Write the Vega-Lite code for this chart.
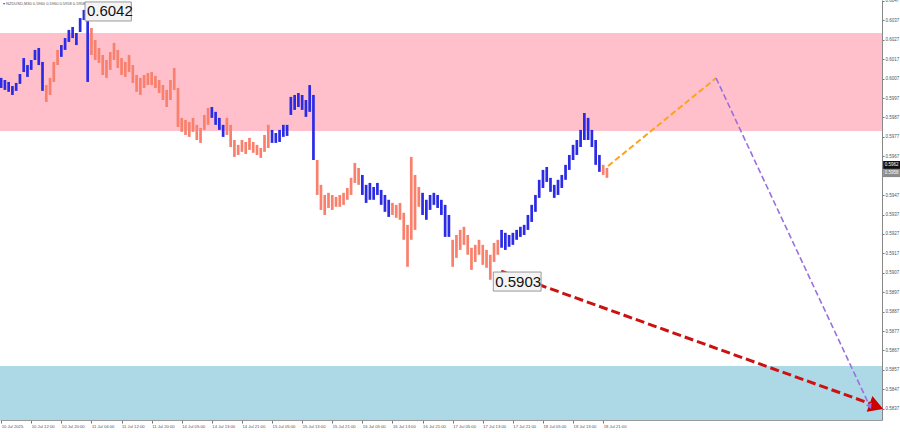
{
  "$schema": "https://vega.github.io/schema/vega-lite/v6.json",
  "width": 882,
  "height": 420,
  "autosize": {"type": "none"},
  "padding": {"left": 0, "top": 0, "right": 18, "bottom": 12},
  "background": "#ffffff",
  "config": {"view": {"stroke": null}, "font": "Liberation Sans"},
  "encoding": {
    "x": {"field": "t", "type": "quantitative", "title": null,
      "scale": {"domain": [-0.3, 234.1], "nice": false, "zero": false},
      "axis": {"orient": "bottom", "values": [0,8,16,24,32,40,48,56,64,72,80,88,96,104,112,120,128,136,144,152,160],
        "labelExpr": "['10 Jul 2025','10 Jul 12:00','10 Jul 20:00','11 Jul 04:00','11 Jul 12:00','11 Jul 20:00','14 Jul 05:00','14 Jul 13:00','14 Jul 21:00','15 Jul 05:00','15 Jul 13:00','15 Jul 21:00','16 Jul 05:00','16 Jul 13:00','16 Jul 21:00','17 Jul 05:00','17 Jul 13:00','17 Jul 21:00','18 Jul 05:00','18 Jul 13:00','18 Jul 21:00'][round(datum.value/8)]",
        "labelAlign": "left", "labelBaseline": "top", "labelFontSize": 4.2, "labelColor": "#555555", "labelPadding": 1, "labelFlush": false, "labelOverlap": false,
        "tickSize": 3, "tickColor": "#777777", "domainColor": "#999999", "grid": false}},
    "y": {"field": "p", "type": "quantitative", "title": null,
      "scale": {"domain": [0.58312, 0.60475], "nice": false, "zero": false},
      "axis": {"orient": "right", "values": [0.5837,0.5847,0.5857,0.5867,0.5877,0.5887,0.5897,0.5907,0.5917,0.5927,0.5937,0.5947,0.5957,0.5967,0.5977,0.5987,0.5997,0.6007,0.6017,0.6027,0.6037,0.6047],
        "format": ".4f", "labelFontSize": 4.5, "labelColor": "#555555", "labelPadding": 1, "labelOverlap": false, "labelFlush": false,
        "tickSize": 2, "tickColor": "#777777", "domainColor": "#888888", "grid": false}}
  },
  "layer": [
    {
      "data": {"values": [
        {"zone": "resistance", "t": -0.3, "t2": 234.1, "p": 0.60305, "p2": 0.59800},
        {"zone": "target", "t": -0.3, "t2": 234.1, "p": 0.58590, "p2": 0.58312}
      ]},
      "mark": {"type": "rect"},
      "encoding": {
        "x2": {"field": "t2"},
        "y2": {"field": "p2"},
        "fill": {"field": "zone", "type": "nominal", "scale": {"domain": ["resistance", "target"], "range": ["#FFC0CB", "#ADD8E6"]}, "legend": null}
      }
    },
    {
      "data": {"values": [
        {"t":0,"high":0.60074,"low":0.60022,"state":"bull"},
        {"t":1,"high":0.60063,"low":0.60012,"state":"bull"},
        {"t":2,"high":0.60053,"low":0.60002,"state":"bull"},
        {"t":3,"high":0.60032,"low":0.59986,"state":"bull"},
        {"t":4,"high":0.60048,"low":0.60007,"state":"bull"},
        {"t":5,"high":0.60094,"low":0.60043,"state":"bull"},
        {"t":6,"high":0.60176,"low":0.60104,"state":"bull"},
        {"t":7,"high":0.60140,"low":0.60079,"state":"bull"},
        {"t":8,"high":0.60166,"low":0.60115,"state":"bull"},
        {"t":9,"high":0.60218,"low":0.60166,"state":"bull"},
        {"t":10,"high":0.60228,"low":0.60140,"state":"bull"},
        {"t":11,"high":0.60156,"low":0.60007,"state":"bull"},
        {"t":12,"high":0.60037,"low":0.59950,"state":"bear"},
        {"t":13,"high":0.60074,"low":0.59986,"state":"bear"},
        {"t":14,"high":0.60156,"low":0.60053,"state":"bear"},
        {"t":15,"high":0.60218,"low":0.60140,"state":"bear"},
        {"t":16,"high":0.60243,"low":0.60182,"state":"bull"},
        {"t":17,"high":0.60279,"low":0.60218,"state":"bull"},
        {"t":18,"high":0.60321,"low":0.60259,"state":"bull"},
        {"t":19,"high":0.60336,"low":0.60279,"state":"bull"},
        {"t":20,"high":0.60305,"low":0.60243,"state":"bull"},
        {"t":21,"high":0.60382,"low":0.60310,"state":"bull"},
        {"t":22,"high":0.60424,"low":0.60372,"state":"bull"},
        {"t":23,"high":0.60413,"low":0.60053,"state":"bull"},
        {"t":24,"high":0.60331,"low":0.60192,"state":"bear"},
        {"t":25,"high":0.60269,"low":0.60166,"state":"bear"},
        {"t":26,"high":0.60228,"low":0.60151,"state":"bear"},
        {"t":27,"high":0.60192,"low":0.60089,"state":"bear"},
        {"t":28,"high":0.60166,"low":0.60074,"state":"bear"},
        {"t":29,"high":0.60207,"low":0.60115,"state":"bear"},
        {"t":30,"high":0.60254,"low":0.60166,"state":"bear"},
        {"t":31,"high":0.60218,"low":0.60125,"state":"bear"},
        {"t":32,"high":0.60176,"low":0.60089,"state":"bear"},
        {"t":33,"high":0.60156,"low":0.60079,"state":"bear"},
        {"t":34,"high":0.60192,"low":0.60104,"state":"bear"},
        {"t":35,"high":0.60140,"low":0.60048,"state":"bear"},
        {"t":36,"high":0.60089,"low":0.60002,"state":"bear"},
        {"t":37,"high":0.60074,"low":0.59986,"state":"bear"},
        {"t":38,"high":0.60089,"low":0.60022,"state":"bear"},
        {"t":39,"high":0.60099,"low":0.60037,"state":"bear"},
        {"t":40,"high":0.60104,"low":0.60037,"state":"bear"},
        {"t":41,"high":0.60084,"low":0.60022,"state":"bear"},
        {"t":42,"high":0.60063,"low":0.59996,"state":"bear"},
        {"t":43,"high":0.60037,"low":0.59960,"state":"bear"},
        {"t":44,"high":0.60012,"low":0.59924,"state":"bear"},
        {"t":45,"high":0.60063,"low":0.59960,"state":"bear"},
        {"t":46,"high":0.60125,"low":0.60012,"state":"bear"},
        {"t":47,"high":0.60022,"low":0.59821,"state":"bear"},
        {"t":48,"high":0.59868,"low":0.59796,"state":"bear"},
        {"t":49,"high":0.59857,"low":0.59780,"state":"bear"},
        {"t":50,"high":0.59847,"low":0.59770,"state":"bear"},
        {"t":51,"high":0.59868,"low":0.59796,"state":"bear"},
        {"t":52,"high":0.59832,"low":0.59754,"state":"bear"},
        {"t":53,"high":0.59816,"low":0.59739,"state":"bear"},
        {"t":54,"high":0.59883,"low":0.59806,"state":"bear"},
        {"t":55,"high":0.59919,"low":0.59832,"state":"bear"},
        {"t":56,"high":0.59924,"low":0.59868,"state":"bull"},
        {"t":57,"high":0.59899,"low":0.59832,"state":"bull"},
        {"t":58,"high":0.59868,"low":0.59806,"state":"bull"},
        {"t":59,"high":0.59832,"low":0.59770,"state":"bull"},
        {"t":60,"high":0.59868,"low":0.59780,"state":"bear"},
        {"t":61,"high":0.59832,"low":0.59718,"state":"bear"},
        {"t":62,"high":0.59754,"low":0.59667,"state":"bear"},
        {"t":63,"high":0.59729,"low":0.59677,"state":"bear"},
        {"t":64,"high":0.59754,"low":0.59693,"state":"bear"},
        {"t":65,"high":0.59744,"low":0.59682,"state":"bear"},
        {"t":66,"high":0.59765,"low":0.59703,"state":"bear"},
        {"t":67,"high":0.59744,"low":0.59688,"state":"bear"},
        {"t":68,"high":0.59729,"low":0.59677,"state":"bear"},
        {"t":69,"high":0.59713,"low":0.59662,"state":"bear"},
        {"t":70,"high":0.59780,"low":0.59693,"state":"bear"},
        {"t":71,"high":0.59832,"low":0.59713,"state":"bear"},
        {"t":72,"high":0.59806,"low":0.59739,"state":"bull"},
        {"t":73,"high":0.59790,"low":0.59739,"state":"bull"},
        {"t":74,"high":0.59806,"low":0.59744,"state":"bull"},
        {"t":75,"high":0.59832,"low":0.59770,"state":"bull"},
        {"t":76,"high":0.59832,"low":0.59775,"state":"bull"},
        {"t":77,"high":0.59976,"low":0.59883,"state":"bull"},
        {"t":78,"high":0.59986,"low":0.59909,"state":"bull"},
        {"t":79,"high":0.59996,"low":0.59924,"state":"bull"},
        {"t":80,"high":0.59986,"low":0.59909,"state":"bull"},
        {"t":81,"high":0.59960,"low":0.59873,"state":"bull"},
        {"t":82,"high":0.60037,"low":0.59899,"state":"bull"},
        {"t":83,"high":0.59986,"low":0.59651,"state":"bull"},
        {"t":84,"high":0.59651,"low":0.59471,"state":"bear"},
        {"t":85,"high":0.59523,"low":0.59394,"state":"bear"},
        {"t":86,"high":0.59471,"low":0.59368,"state":"bear"},
        {"t":87,"high":0.59482,"low":0.59404,"state":"bear"},
        {"t":88,"high":0.59471,"low":0.59394,"state":"bear"},
        {"t":89,"high":0.59461,"low":0.59410,"state":"bear"},
        {"t":90,"high":0.59471,"low":0.59410,"state":"bear"},
        {"t":91,"high":0.59482,"low":0.59420,"state":"bear"},
        {"t":92,"high":0.59507,"low":0.59446,"state":"bear"},
        {"t":93,"high":0.59559,"low":0.59471,"state":"bear"},
        {"t":94,"high":0.59636,"low":0.59533,"state":"bear"},
        {"t":95,"high":0.59610,"low":0.59523,"state":"bear"},
        {"t":96,"high":0.59574,"low":0.59471,"state":"bull"},
        {"t":97,"high":0.59523,"low":0.59430,"state":"bull"},
        {"t":98,"high":0.59533,"low":0.59446,"state":"bull"},
        {"t":99,"high":0.59512,"low":0.59446,"state":"bull"},
        {"t":100,"high":0.59533,"low":0.59471,"state":"bull"},
        {"t":101,"high":0.59497,"low":0.59420,"state":"bull"},
        {"t":102,"high":0.59471,"low":0.59384,"state":"bull"},
        {"t":103,"high":0.59446,"low":0.59358,"state":"bull"},
        {"t":104,"high":0.59430,"low":0.59368,"state":"bear"},
        {"t":105,"high":0.59420,"low":0.59353,"state":"bear"},
        {"t":106,"high":0.59430,"low":0.59343,"state":"bear"},
        {"t":107,"high":0.59379,"low":0.59240,"state":"bear"},
        {"t":108,"high":0.59317,"low":0.59101,"state":"bear"},
        {"t":109,"high":0.59667,"low":0.59240,"state":"bear"},
        {"t":110,"high":0.59574,"low":0.59291,"state":"bear"},
        {"t":111,"high":0.59512,"low":0.59410,"state":"bear"},
        {"t":112,"high":0.59482,"low":0.59368,"state":"bull"},
        {"t":113,"high":0.59446,"low":0.59343,"state":"bull"},
        {"t":114,"high":0.59471,"low":0.59394,"state":"bull"},
        {"t":115,"high":0.59482,"low":0.59420,"state":"bull"},
        {"t":116,"high":0.59471,"low":0.59404,"state":"bull"},
        {"t":117,"high":0.59446,"low":0.59368,"state":"bull"},
        {"t":118,"high":0.59420,"low":0.59255,"state":"bull"},
        {"t":119,"high":0.59368,"low":0.59255,"state":"bull"},
        {"t":120,"high":0.59240,"low":0.59101,"state":"bear"},
        {"t":121,"high":0.59265,"low":0.59147,"state":"bear"},
        {"t":122,"high":0.59291,"low":0.59188,"state":"bear"},
        {"t":123,"high":0.59307,"low":0.59214,"state":"bear"},
        {"t":124,"high":0.59265,"low":0.59163,"state":"bear"},
        {"t":125,"high":0.59199,"low":0.59085,"state":"bear"},
        {"t":126,"high":0.59214,"low":0.59126,"state":"bear"},
        {"t":127,"high":0.59240,"low":0.59163,"state":"bear"},
        {"t":128,"high":0.59214,"low":0.59111,"state":"bear"},
        {"t":129,"high":0.59188,"low":0.59096,"state":"bear"},
        {"t":130,"high":0.59163,"low":0.59034,"state":"bear"},
        {"t":131,"high":0.59224,"low":0.59126,"state":"bear"},
        {"t":132,"high":0.59240,"low":0.59163,"state":"bear"},
        {"t":133,"high":0.59291,"low":0.59199,"state":"bull"},
        {"t":134,"high":0.59276,"low":0.59188,"state":"bull"},
        {"t":135,"high":0.59265,"low":0.59204,"state":"bull"},
        {"t":136,"high":0.59276,"low":0.59214,"state":"bull"},
        {"t":137,"high":0.59291,"low":0.59240,"state":"bull"},
        {"t":138,"high":0.59307,"low":0.59255,"state":"bull"},
        {"t":139,"high":0.59317,"low":0.59265,"state":"bull"},
        {"t":140,"high":0.59368,"low":0.59291,"state":"bull"},
        {"t":141,"high":0.59420,"low":0.59332,"state":"bull"},
        {"t":142,"high":0.59471,"low":0.59384,"state":"bull"},
        {"t":143,"high":0.59549,"low":0.59456,"state":"bull"},
        {"t":144,"high":0.59600,"low":0.59507,"state":"bull"},
        {"t":145,"high":0.59615,"low":0.59538,"state":"bull"},
        {"t":146,"high":0.59559,"low":0.59487,"state":"bull"},
        {"t":147,"high":0.59523,"low":0.59456,"state":"bull"},
        {"t":148,"high":0.59549,"low":0.59471,"state":"bull"},
        {"t":149,"high":0.59574,"low":0.59507,"state":"bull"},
        {"t":150,"high":0.59626,"low":0.59549,"state":"bull"},
        {"t":151,"high":0.59677,"low":0.59600,"state":"bull"},
        {"t":152,"high":0.59729,"low":0.59651,"state":"bull"},
        {"t":153,"high":0.59754,"low":0.59677,"state":"bull"},
        {"t":154,"high":0.59806,"low":0.59718,"state":"bull"},
        {"t":155,"high":0.59893,"low":0.59754,"state":"bull"},
        {"t":156,"high":0.59868,"low":0.59754,"state":"bull"},
        {"t":157,"high":0.59806,"low":0.59718,"state":"bull"},
        {"t":158,"high":0.59754,"low":0.59626,"state":"bull"},
        {"t":159,"high":0.59677,"low":0.59590,"state":"bull"},
        {"t":160,"high":0.59626,"low":0.59574,"state":"bear"},
        {"t":161,"high":0.59610,"low":0.59559,"state":"bear"}
      ]},
      "mark": {"type": "rule", "strokeWidth": 2.7},
      "encoding": {
        "y": {"field": "high", "type": "quantitative", "title": null, "scale": {"domain": [0.58312, 0.60475], "nice": false, "zero": false}},
        "y2": {"field": "low"},
        "stroke": {"field": "state", "type": "nominal", "scale": {"domain": ["bull", "bear"], "range": ["#2B2BE6", "#F8806C"]}, "legend": null}
      }
    },
    {
      "data": {"values": [{"t": 161.3, "p": 0.59620}, {"t": 190.0, "p": 0.60073}]},
      "mark": {"type": "line", "color": "#FFA31A", "strokeWidth": 2, "strokeDash": [6, 3]},
      "encoding": {}
    },
    {
      "data": {"values": [{"t": 190.0, "p": 0.60073}, {"t": 230.7, "p": 0.58389}]},
      "mark": {"type": "line", "color": "#9A6FE0", "strokeWidth": 1.6, "strokeDash": [6, 3]},
      "encoding": {}
    },
    {
      "data": {"values": [{"t": 132.9, "p": 0.59079}, {"t": 231.6, "p": 0.58392}]},
      "mark": {"type": "line", "color": "#CC1111", "strokeWidth": 3, "strokeDash": [9, 4]},
      "encoding": {}
    },
    {
      "data": {"values": [{"t": 232.6, "p": 0.58382}]},
      "mark": {"type": "point", "shape": "triangle-right", "angle": 20, "size": 280, "filled": true, "color": "#CC0000", "opacity": 1},
      "encoding": {}
    },
    {
      "data": {"values": [{"t": 230.9, "p": 0.58382}]},
      "mark": {"type": "point", "shape": "triangle-right", "angle": 65, "size": 40, "filled": true, "color": "#9A6FE0", "opacity": 1},
      "encoding": {}
    },
    {
      "data": {"values": [
        {"t": 22.3, "t2": 34.6, "p": 0.60465, "p2": 0.60367},
        {"t": 130.8, "t2": 143.5, "p": 0.59074, "p2": 0.58976}
      ]},
      "mark": {"type": "rect", "fill": "#F4F4F4", "stroke": "#999999", "strokeWidth": 1},
      "encoding": {"x2": {"field": "t2"}, "y2": {"field": "p2"}}
    },
    {
      "data": {"values": [
        {"label": "0.6042", "t": 22.8, "p": 0.60416},
        {"label": "0.5903", "t": 131.3, "p": 0.59025}
      ]},
      "mark": {"type": "text", "align": "left", "baseline": "middle", "fontSize": 15, "color": "#111111", "font": "Liberation Sans"},
      "encoding": {"text": {"field": "label"}}
    },
    {
      "data": {"values": [{"t": 234.4, "t2": 239.2, "p": 0.59646, "p2": 0.59605}]},
      "mark": {"type": "rect", "fill": "#111111"},
      "encoding": {"x2": {"field": "t2"}, "y2": {"field": "p2"}}
    },
    {
      "data": {"values": [{"t": 234.4, "t2": 239.2, "p": 0.59605, "p2": 0.59563}]},
      "mark": {"type": "rect", "fill": "#8C8C8C"},
      "encoding": {"x2": {"field": "t2"}, "y2": {"field": "p2"}}
    },
    {
      "data": {"values": [
        {"label": "0.5962", "t": 234.8, "p": 0.59626},
        {"label": "0.5958", "t": 234.8, "p": 0.59584}
      ]},
      "mark": {"type": "text", "align": "left", "baseline": "middle", "fontSize": 4.5, "color": "#ffffff"},
      "encoding": {"text": {"field": "label"}}
    },
    {
      "data": {"values": [{"label": "▾ NZDUSD,M30  0.5960 0.5960 0.5958 0.5958", "t": 0.5, "p": 0.60454}]},
      "mark": {"type": "text", "align": "left", "baseline": "middle", "fontSize": 4, "color": "#555555"},
      "encoding": {"text": {"field": "label"}}
    }
  ]
}
